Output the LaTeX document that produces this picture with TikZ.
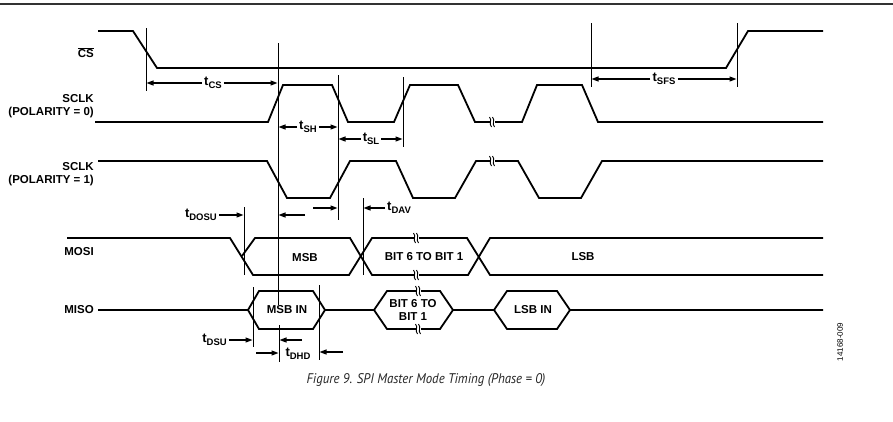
\documentclass[tikz,border=0pt]{standalone}
\usepackage{fontspec}
\setmainfont{Liberation Sans}
\newfontfamily\capfont{PT Sans}
\usetikzlibrary{arrows.meta}
\newcommand{\tsub}[1]{t\raisebox{-0.45ex}{\fontsize{9.5}{10}\selectfont #1}}
\newcommand{\brkmark}[2]{%
  \fill[white] (#1-2.5,#2-1.6) rectangle (#1+1.5,#2+1.6);
  \draw[line width=0.9pt] (#1-3.5,#2-5) .. controls (#1-0.5,#2-2) and (#1-4.5,#2+2) .. (#1-1.5,#2+5);
  \draw[line width=0.9pt] (#1-0.5,#2-5) .. controls (#1+2.5,#2-2) and (#1-1.5,#2+2) .. (#1+1.5,#2+5);
}
\begin{document}
\begin{tikzpicture}[x=1pt,y=-1pt,
  sig/.style={line width=1.8pt, line join=miter},
  vline/.style={line width=0.9pt},
  dim/.style={line width=1.2pt, -{Triangle[length=7pt,width=5pt]}},
  lbl/.style={font=\fontsize{11.5}{13}\selectfont\bfseries, inner sep=0pt},
  tlbl/.style={font=\fontsize{13}{14}\selectfont\bfseries, inner sep=2pt},
]
\useasboundingbox (0,0) rectangle (893,421);
% top rule
\draw[line width=2pt, black!80] (0,4) -- (893,4);

% signal names
\node[lbl, anchor=east] (ncs) at (94,53) {$\overline{\mbox{CS}}$};
\node[lbl, anchor=east, align=right] (nsclk0) at (94,106.5) {SCLK\\(POLARITY = 0)};
\node[lbl, anchor=east, align=right] (nsclk1) at (94,174) {SCLK\\(POLARITY = 1)};
\node[lbl, anchor=east] (nmosi) at (94,252) {MOSI};
\node[lbl, anchor=east] (nmiso) at (94,310) {MISO};

% CS
\draw[sig] (98,31) -- (133,31) -- (157,68) -- (726,68) -- (748,31) -- (823,31);
% SCLK polarity 0
\draw[sig] (95,122) -- (268,122) -- (283,85) -- (332,85) -- (348,122) -- (394,122) -- (410,85)
  -- (458,85) -- (475,122) -- (522,122) -- (537,85) -- (582,85) -- (598,122) -- (823,122);
\brkmark{493}{122}
% SCLK polarity 1
\draw[sig] (98,161) -- (267,161) -- (287,198) -- (330,198) -- (350,161) -- (396,161) -- (413,198)
  -- (455,198) -- (476,161) -- (518,161) -- (539,198) -- (581,198) -- (602,161) -- (823,161);
\brkmark{493}{161}
% MOSI
\draw[sig] (67,238) -- (230,238) -- (253,275) -- (349,275) -- (372,238) -- (467,238) -- (490,275) -- (823,275);
\draw[sig] (242,256) -- (255,238) -- (350,238) -- (372,275) -- (468,275) -- (490,238) -- (823,238);
\brkmark{417}{238}
\brkmark{417}{275}
% MISO
\draw[sig] (98,310) -- (248,310) -- (259,291) -- (313,291) -- (325,310) -- (374,310) -- (387,291)
  -- (440,291) -- (453,310) -- (494,310) -- (507,291) -- (557,291) -- (570,310) -- (823,310);
\draw[sig] (248,310) -- (259,329) -- (313,329) -- (325,310);
\draw[sig] (374,310) -- (387,329) -- (440,329) -- (453,310);
\draw[sig] (494,310) -- (507,329) -- (557,329) -- (570,310);
\brkmark{419}{291}
\brkmark{419}{329}

% data labels
\node[lbl] (msb) at (305,258) {MSB};
\node[lbl] (bit61) at (424,257) {BIT 6 TO BIT 1};
\node[lbl] (lsb) at (583,257) {LSB};
\node[lbl] (msbin) at (287,310) {MSB IN};
\node[lbl, align=center] (bitin) at (413,310) {BIT 6 TO\\BIT 1};
\node[lbl] (lsbin) at (533,310) {LSB IN};

% vertical reference lines
\draw[vline] (146,28) -- (146,91);
\draw[vline] (278,43) -- (278,305);
\draw[vline] (279,325) -- (279,362);
\draw[vline] (338,75) -- (338,220);
\draw[vline] (403,77) -- (403,147);
\draw[vline] (591,23) -- (591,87);
\draw[vline] (737,23) -- (737,87);
\draw[vline] (244,207) -- (244,275);
\draw[vline] (363,198) -- (363,275);
\draw[vline] (253,287) -- (253,347);
\draw[vline] (319,285) -- (319,360);

% timing labels and arrows
\node[tlbl] (tcs) at (213,83) {\tsub{CS}};
\draw[dim] (tcs.west) -- (146.5,83);
\draw[dim] (tcs.east) -- (277.5,83);

\node[tlbl] (tsh) at (308,127) {\tsub{SH}};
\draw[dim] (tsh.west) -- (278.5,127);
\draw[dim] (tsh.east) -- (337.5,127);

\node[tlbl] (tsl) at (371,139) {\tsub{SL}};
\draw[dim] (tsl.west) -- (338.5,139);
\draw[dim] (tsl.east) -- (402.5,139);

\node[tlbl] (tsfs) at (664,79) {\tsub{SFS}};
\draw[dim] (tsfs.west) -- (591.5,79);
\draw[dim] (tsfs.east) -- (736.5,79);

\node[tlbl, anchor=east] (tdosu) at (219,215) {\tsub{DOSU}};
\draw[dim] (tdosu.east) -- (243.5,215);
\draw[dim] (305,215) -- (278.5,215);
\draw[dim] (313,208) -- (337.5,208);

\node[tlbl, anchor=west] (tdav) at (385,208) {\tsub{DAV}};
\draw[dim] (tdav.west) -- (363.5,208);

\node[tlbl, anchor=east] (tdsu) at (229,340) {\tsub{DSU}};
\draw[dim] (tdsu.east) -- (252.5,340);
\draw[dim] (302,340) -- (279.5,340);
\draw[dim] (256,353) -- (278.5,353);
\node[tlbl] (tdhd) at (298,354) {\tsub{DHD}};
\draw[dim] (343,352) -- (319.5,352);

% caption and document id
\node[font=\capfont\itshape\fontsize{14}{16}\selectfont, text=black!85, xscale=0.92] (cap) at (426,380) {Figure 9. SPI Master Mode Timing (Phase = 0)};
\node[rotate=90, font=\fontsize{8}{9}\selectfont] (docid) at (840,342) {14168-009};
\end{tikzpicture}
\end{document}
